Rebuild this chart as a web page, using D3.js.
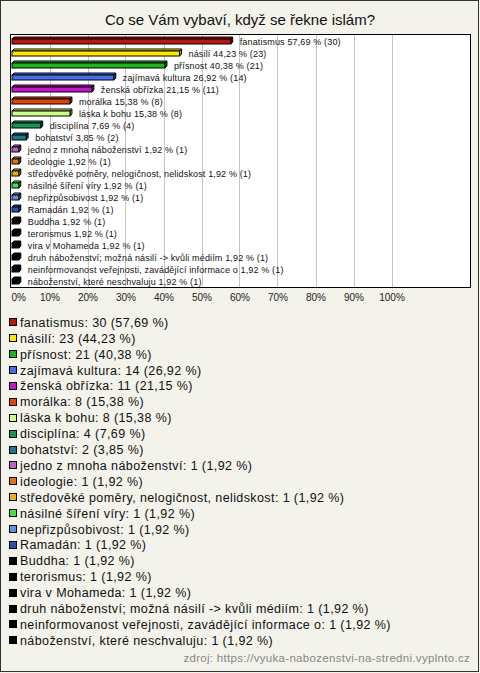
<!DOCTYPE html>
<html><head><meta charset="utf-8">
<script src="https://cdn.jsdelivr.net/npm/d3@7"></script>
<style>
html,body{margin:0;padding:0;background:#f3f2eb;}
svg{display:block;font-family:"Liberation Sans",Arial,sans-serif;}
</style></head>
<body><svg id="c" width="480" height="673"></svg>
<script>
const categories = ["fanatismus","násilí","přísnost","zajímavá kultura","ženská obřízka","morálka","láska k bohu","disciplína","bohatství","jedno z mnoha náboženství","ideologie","středověké poměry, nelogičnost, nelidskost","násilné šíření víry","nepřizpůsobivost","Ramadán","Buddha","terorismus","vira v Mohameda","druh náboženství; možná násilí -> kvůli médiím","neinformovanost veřejnosti, zavádějící informace o","náboženství, které neschvaluju"];
const counts = [30,23,21,14,11,8,8,4,2,1,1,1,1,1,1,1,1,1,1,1,1];
const percents = [57.69,44.23,40.38,26.92,21.15,15.38,15.38,7.69,3.85,1.92,1.92,1.92,1.92,1.92,1.92,1.92,1.92,1.92,1.92,1.92,1.92];
const colors = ["#b8180c","#ffe600","#1cb41c","#4a6ee8","#c018c8","#e0420e","#ccff88","#189458","#1a7888","#c060c8","#e07414","#e8b414","#44e044","#6890e0","#2c50b4","#000000","#000000","#000000","#000000","#000000","#000000"];
const xTicks = [0,10,20,30,40,50,60,70,80,90,100];
const title = "Co se Vám vybaví, když se řekne islám?";
const source = "zdroj: https://vyuka-nabozenstvi-na-stredni.vyplnto.cz";

const fmt = v => d3.format(".2f")(v).replace(".", ",");
const svg = d3.select("#c");

svg.append("rect").attr("x",0.5).attr("y",0.5).attr("width",478).attr("height",671)
  .attr("fill","#f3f2eb").attr("stroke","#333");

svg.append("text").attr("x",240).attr("y",25).attr("text-anchor","middle")
  .attr("font-size",15).attr("fill","#111").text(title);

const plotL = 11, plotR = 470, plotT = 35, plotB = 287;
svg.append("rect").attr("x",plotL-0.5).attr("y",plotT-0.5).attr("width",plotR-plotL+1).attr("height",plotB-plotT+1)
  .attr("fill","#fff").attr("stroke","none");

const x = d3.scaleLinear().domain([0,100]).range([11.5,391.5]);
const y = d3.scaleBand().domain(categories).range([plotT,plotB]).padding(0);

// gridlines
svg.append("g").selectAll("line").data(xTicks.slice(1)).join("line")
  .attr("x1",d=>Math.round(x(d))+0.5).attr("x2",d=>Math.round(x(d))+0.5)
  .attr("y1",plotT).attr("y2",plotB).attr("stroke","#c4c4c4");

// axis
const axis = d3.axisBottom(x).tickValues(xTicks).tickFormat(d=>d+"%").tickSize(0).tickPadding(0);
const ag = svg.append("g").attr("transform",`translate(0,${plotB+7})`).call(axis);
ag.select(".domain").remove();
ag.selectAll("text").attr("font-size",10).attr("fill","#222").attr("font-family","Liberation Sans, Arial, sans-serif").attr("dy","0.71em");
ag.selectAll(".tick").filter(d=>d===0).select("text").attr("text-anchor","start").attr("x",-0.5);

// bars (3D)
const data = categories.map((c,i)=>({c, n:counts[i], p:percents[i], col:colors[i]}));
const g = svg.append("g");
const dd = 2;
data.forEach(d=>{
  const top = y(d.c)+4, h = 5;
  const x0 = 12, x1 = x(d.p);
  const col = d3.color(d.col);
  const dark = col.darker(0.8);
  const bright = col.brighter(0.3);
  g.append("path").attr("d",`M${x0},${top}L${x0+dd},${top-dd}L${x1+dd},${top-dd}L${x1},${top}Z`)
    .attr("fill",bright).attr("stroke","#000").attr("stroke-width",1).attr("stroke-linejoin","round");
  g.append("path").attr("d",`M${x1},${top}L${x1+dd},${top-dd}L${x1+dd},${top+h-dd}L${x1},${top+h}Z`)
    .attr("fill",dark).attr("stroke","#000").attr("stroke-width",1).attr("stroke-linejoin","round");
  g.append("rect").attr("x",x0).attr("y",top).attr("width",x1-x0).attr("height",h)
    .attr("fill",d.col).attr("stroke","#000").attr("stroke-width",1);
  g.append("text").attr("x",x1+dd+7).attr("y",y(d.c)+y.bandwidth()/2+3.5)
    .attr("font-size",9).attr("letter-spacing",0.15).attr("fill","#111")
    .text(`${d.c} ${fmt(d.p)} % (${d.n})`);
});

svg.append("rect").attr("x",plotL-0.5).attr("y",plotT-0.5).attr("width",plotR-plotL+1).attr("height",plotB-plotT+1)
  .attr("fill","none").attr("stroke","#000");

// legend
const lg = svg.append("g");
const ly = d3.scaleLinear().domain([0,20]).range([322.3,640.3]);
data.forEach((d,i)=>{
  const cy = ly(i);
  lg.append("rect").attr("x",9.5).attr("y",Math.round(cy-4)+0.5).attr("width",7).attr("height",7)
    .attr("fill",d.col).attr("stroke","#000");
  lg.append("text").attr("x",20).attr("y",cy+4.5).attr("font-size",12.5).attr("letter-spacing",0.4).attr("fill","#111")
    .text(`${d.c}: ${d.n} (${fmt(d.p)} %)`);
});

svg.append("text").attr("x",470).attr("y",662).attr("text-anchor","end")
  .attr("font-size",11.5).attr("letter-spacing",0.3).attr("fill","#888").text(source);
</script></body></html>
